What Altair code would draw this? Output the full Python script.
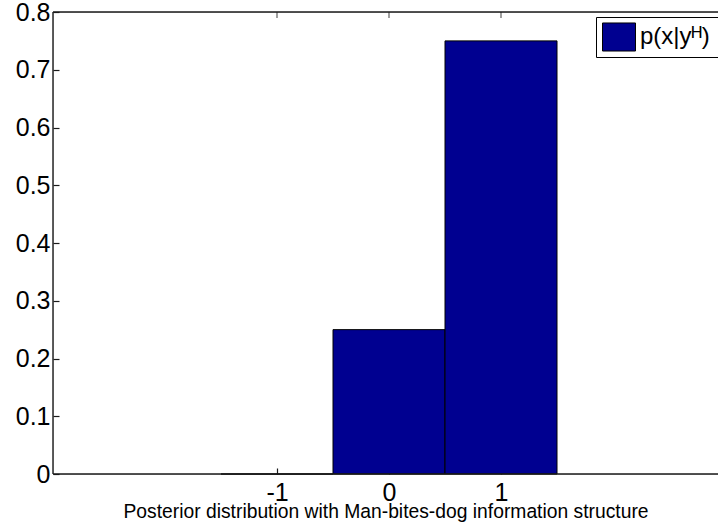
import altair as alt
import pandas as pd

# ---- data ----
x_values = [-1, 0, 1]
probabilities = [0.0, 0.25, 0.75]
series_name = "p(x|yᴴ)\u2800\u2800"
x_tick_values = [-1, 0, 1]
y_tick_values = [0, 0.1, 0.2, 0.3, 0.4, 0.5, 0.6, 0.7, 0.8]
x_title = "Posterior distribution with Man-bites-dog information structure"

X_MIN, X_MAX = -3, 2.9375   # right edge of the axes runs off the picture
Y_MIN, Y_MAX = 0, 0.8
W, H = 665, 462
FONT = "Liberation Sans"
BAR_COLOR = "#000090"
LINE_COLOR = "#1a1a1a"

bars_df = pd.DataFrame({"x": x_values, "p": probabilities,
                        "series": [series_name] * len(x_values)})
ticks_df = pd.DataFrame({"t": x_tick_values})

xscale = alt.Scale(domain=[X_MIN, X_MAX], nice=False, zero=False)
yscale = alt.Scale(domain=[Y_MIN, Y_MAX], nice=False, zero=False)

x_axis = alt.Axis(orient="bottom", values=x_tick_values, offset=-6, tickSize=6,
                  tickColor=LINE_COLOR, tickWidth=1.2, domain=False, grid=False,
                  labelFont=FONT, labelFontSize=25, labelColor="black",
                  labelPadding=6, labelFlush=False, labelExpr="'' + datum.value",
                  title=x_title, titleFont=FONT, titleFontSize=19.3,
                  titleFontWeight="normal", titleColor="black", titlePadding=-3,
                  zindex=0)
y_axis = alt.Axis(orient="left", values=y_tick_values, offset=-6, tickSize=6,
                  tickColor=LINE_COLOR, tickWidth=1.2, domain=False, grid=False,
                  labelFont=FONT, labelFontSize=25, labelColor="black",
                  labelPadding=3, labelFlush=False, labelExpr="'' + datum.value",
                  title="", zindex=0)

legend = alt.Legend(orient="none", legendX=543, legendY=5, title=None,
                    strokeColor="black", fillColor="white", padding=3,
                    symbolType="M-1,-0.85H1V0.85H-1Z", symbolSize=1089,
                    symbolStrokeColor="black", symbolStrokeWidth=1,
                    symbolOffset=3, labelOffset=4, labelFont=FONT,
                    labelFontSize=24, labelColor="black")

bars = (
    alt.Chart(bars_df)
    .transform_calculate(x0="datum.x - 0.5", x1="datum.x + 0.5")
    .mark_rect(stroke="black", strokeWidth=1)
    .encode(
        x=alt.X("x0:Q", scale=xscale, axis=x_axis),
        x2="x1:Q",
        y=alt.Y("p:Q", scale=yscale, axis=y_axis),
        y2=alt.Y2Datum(0),
        fill=alt.Fill("series:N",
                      scale=alt.Scale(domain=[series_name], range=[BAR_COLOR]),
                      legend=legend),
    )
)

top_ticks = (
    alt.Chart(ticks_df)
    .mark_tick(orient="vertical", size=6, thickness=1.2, color=LINE_COLOR, yOffset=3)
    .encode(x=alt.X("t:Q", scale=xscale),
            y=alt.YDatum(Y_MAX, scale=yscale))
)

spine_style = dict(color=LINE_COLOR, strokeWidth=1.4)
left_spine = alt.Chart().mark_rule(**spine_style).encode(
    x=alt.XDatum(X_MIN, scale=xscale),
    y=alt.YDatum(Y_MIN, scale=yscale),
    y2=alt.Y2Datum(Y_MAX),
)
top_spine = alt.Chart().mark_rule(**spine_style).encode(
    x=alt.XDatum(X_MIN, scale=xscale),
    x2=alt.X2Datum(X_MAX),
    y=alt.YDatum(Y_MAX, scale=yscale),
)
bottom_spine = alt.Chart().mark_rule(**spine_style).encode(
    x=alt.XDatum(X_MIN, scale=xscale),
    x2=alt.X2Datum(X_MAX),
    y=alt.YDatum(Y_MIN, scale=yscale),
)

chart = (
    alt.layer(bars, top_ticks, left_spine, top_spine, bottom_spine)
    .properties(width=W, height=H,
                padding={"left": 53, "top": 12, "right": 0, "bottom": 51},
                autosize=alt.AutoSizeParams(type="none"),
                background="white")
    .configure_view(stroke="transparent")
    .configure(font=FONT)
)

chart.save("out.html", embed_options={"renderer": "svg", "actions": False})
